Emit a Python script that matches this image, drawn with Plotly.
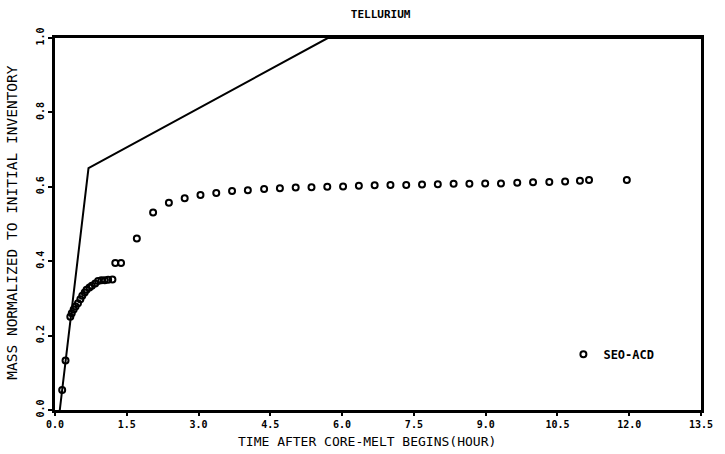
import plotly.graph_objects as go

# SEO-ACD calculated tellurium mass (normalized to initial inventory)
time_hr = [0.15, 0.22, 0.32, 0.35, 0.39, 0.43, 0.48, 0.53, 0.57, 0.62, 0.66,
           0.72, 0.77, 0.84, 0.90, 0.97, 1.04, 1.11, 1.20, 1.26, 1.38, 1.71,
           2.05, 2.38, 2.71, 3.04, 3.37, 3.70, 4.03, 4.37, 4.70, 5.03, 5.36,
           5.69, 6.02, 6.35, 6.68, 7.01, 7.34, 7.67, 8.00, 8.33, 8.66, 8.99,
           9.32, 9.66, 9.99, 10.33, 10.66, 10.97, 11.16, 11.95]
mass_frac = [0.054, 0.133, 0.251, 0.260, 0.270, 0.278, 0.287, 0.298, 0.307,
             0.316, 0.323, 0.329, 0.334, 0.340, 0.347, 0.349, 0.349, 0.350,
             0.351, 0.395, 0.395, 0.461, 0.531, 0.557, 0.569, 0.578, 0.583,
             0.589, 0.591, 0.594, 0.596, 0.598, 0.599, 0.600, 0.601, 0.603,
             0.604, 0.605, 0.605, 0.606, 0.607, 0.608, 0.608, 0.609, 0.609,
             0.611, 0.612, 0.613, 0.614, 0.616, 0.618, 0.618, 0.620]

# Reference curve (solid line)
line_time = [0.10, 0.70, 5.70, 13.5]
line_mass = [0.0, 0.65, 1.0, 1.0]

x_ticks = [0.0, 1.5, 3.0, 4.5, 6.0, 7.5, 9.0, 10.5, 12.0, 13.5]
x_tick_text = ["0.0", "1.5", "3.0", "4.5", "6.0", "7.5", "9.0", "10.5", "12.0", "13.5"]
y_ticks = [0.0, 0.2, 0.4, 0.6, 0.8, 1.0]
y_tick_text = ["0.0", "0.2", "0.4", "0.6", "0.8", "1.0"]

FONT = "DejaVu Sans Mono"

fig = go.Figure()
fig.add_trace(go.Scatter(
    x=line_time, y=line_mass, mode="lines",
    line=dict(color="black", width=2), showlegend=False, cliponaxis=True,
))
fig.add_trace(go.Scatter(
    x=time_hr, y=mass_frac, mode="markers", name="SEO-ACD",
    marker=dict(symbol="circle-open", size=6, color="black",
                line=dict(color="black", width=2)),
    cliponaxis=False,
))

fig.update_layout(
    width=725, height=454,
    margin=dict(l=55, r=13, t=38, b=44),
    paper_bgcolor="white", plot_bgcolor="white",
    title=dict(text="<b>TELLURIUM</b>", x=0.525, xanchor="center",
               y=0.969, yanchor="middle",
               font=dict(family=FONT, size=11, color="black")),
    font=dict(family=FONT, color="black"),
    legend=dict(x=0.787, y=0.15, xanchor="left", yanchor="middle",
                bgcolor="rgba(0,0,0,0)",
                font=dict(family=FONT, size=12, color="black", weight="bold")),
    xaxis=dict(
        range=[0, 13.5], tickvals=x_ticks, ticktext=x_tick_text,
        showgrid=False, zeroline=False, showline=True, mirror=True,
        linecolor="black", linewidth=3,
        ticks="outside", ticklen=3, tickwidth=1.5, tickcolor="black",
        tickfont=dict(family=FONT, size=10, weight="bold"),
    ),
    yaxis=dict(
        range=[0, 1], tickvals=y_ticks, ticktext=y_tick_text,
        showgrid=False, zeroline=False, showline=True, mirror=True,
        linecolor="black", linewidth=3,
        ticks="outside", ticklen=4, tickwidth=1.5, tickcolor="black",
        tickangle=-90,
        tickfont=dict(family=FONT, size=10, weight="bold"),
    ),
    annotations=[
        dict(text="TIME AFTER CORE-MELT BEGINS(HOUR)", xref="paper", yref="paper",
             x=(372 - 55) / 657, y=-(441 - 410) / 372, xanchor="center",
             yanchor="middle", showarrow=False,
             font=dict(family=FONT, size=13, color="black")),
        dict(text="MASS NORMALIZED TO INITIAL INVENTORY", xref="paper", yref="paper",
             x=-(55 - 11) / 657, y=(410 - 222) / 372, xanchor="center",
             yanchor="middle", textangle=-90, showarrow=False,
             font=dict(family=FONT, size=14.5, color="black")),
    ],
)

fig.write_html("out.html")
